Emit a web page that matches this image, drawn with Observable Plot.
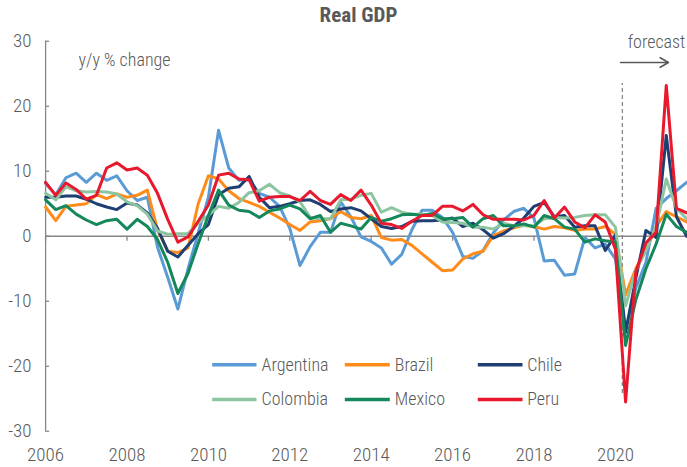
<!DOCTYPE html>
<html><head><meta charset="utf-8">
<script src="https://cdn.jsdelivr.net/npm/d3@7"></script>
<script src="https://cdn.jsdelivr.net/npm/@observablehq/plot@0.6"></script>
<style>
html,body{margin:0;padding:0;background:#fff;overflow:hidden}
#chart svg{display:block}
</style></head><body><div id="chart"></div>
<script>
// ---- data ----
const quarters = [];
for (let y = 2006; y <= 2021; y++) for (let q = 1; q <= 4; q++) quarters.push(`${y}Q${q}`);

const countries = ["Argentina", "Brazil", "Chile", "Colombia", "Mexico", "Peru"];
const colors = ["#5b9bd5", "#ff8c1a", "#1f3f73", "#8ec5a1", "#14885a", "#e8192c"];

const argentina = [8.1, 6.4, 9.0, 9.7, 8.3, 9.7, 8.6, 9.3,
  7.0, 5.5, 6.0, -1.7, -6.3, -11.2, -5.0, 0.5,
  6.0, 16.3, 10.5, 8.6, 8.7, 6.6, 6.0, 4.6,
  1.2, -4.5, -1.6, 0.6, 0.6, 5.3, 3.0, -0.1,
  -0.8, -1.8, -4.3, -2.8, 1.0, 4.0, 4.0, 2.9,
  0.6, -3.1, -3.4, -2.2, 0.5, 2.5, 3.8, 4.3,
  2.8, -3.8, -3.7, -6.0, -5.8, -0.2, -1.8, -1.2,
  -3.5, -14.5, -8.0, -4.0, 4.3, 5.8, 7.0, 8.3];
const brazil = [4.5, 2.4, 4.6, 4.8, 5.0, 6.4, 5.8, 6.5,
  6.0, 6.3, 7.1, 1.0, -2.3, -2.5, -1.8, 5.0,
  9.3, 8.8, 7.0, 5.8, 5.2, 4.6, 3.7, 2.8,
  1.8, 0.9, 2.2, 2.4, 2.7, 3.8, 2.9, 2.7,
  3.2, -0.2, -0.6, -0.5, -1.4, -2.7, -4.0, -5.3,
  -5.2, -3.5, -2.7, -2.3, 0.1, 0.8, 1.3, 1.7,
  1.5, 1.1, 1.5, 1.3, 0.9, 1.1, 1.1, 1.5,
  0.3, -9.0, -5.0, -2.0, 1.5, 3.8, 3.0, 2.2];
const chile = [6.0, 6.0, 6.2, 6.2, 5.7, 5.0, 4.5, 4.1,
  5.1, 4.8, 3.6, 1.2, -2.3, -3.2, -1.4, 0.4,
  1.8, 6.4, 7.4, 7.6, 9.2, 6.0, 4.4, 4.6,
  5.0, 5.5, 5.6, 4.9, 3.8, 4.2, 4.4, 3.9,
  2.7, 1.5, 1.2, 1.5, 2.3, 2.4, 2.4, 2.5,
  2.8, 1.5, 2.0, 1.0, -0.3, 0.4, 1.5, 2.8,
  4.6, 5.2, 3.0, 3.2, 1.4, 1.6, 1.6, -2.2,
  0.2, -14.8, -6.5, 0.9, -0.2, 15.5, 3.0, 0.0];
const colombia = [6.6, 5.6, 7.6, 7.0, 6.8, 6.9, 6.8, 6.5,
  5.3, 4.7, 3.4, 0.8, 0.3, 0.4, 0.4, 2.0,
  3.2, 4.6, 4.3, 5.2, 6.7, 7.0, 8.0, 6.7,
  6.2, 5.3, 2.9, 2.7, 2.7, 5.6, 5.7, 6.3,
  6.6, 3.7, 4.4, 3.7, 3.4, 3.4, 3.2, 2.2,
  2.1, 2.0, 1.4, 1.4, 1.1, 2.0, 1.6, 1.6,
  1.6, 2.7, 2.9, 2.8, 2.9, 3.2, 3.3, 3.3,
  1.4, -10.7, -5.3, -2.2, 1.4, 8.8, 4.3, 2.7];
const mexico = [5.6, 4.1, 4.7, 3.4, 2.5, 1.8, 2.4, 2.6,
  1.1, 2.6, 1.5, -0.5, -4.0, -8.8, -5.7, -1.1,
  3.2, 7.1, 4.8, 4.0, 3.8, 2.9, 3.9, 4.2,
  4.8, 4.2, 2.7, 3.2, 0.6, 2.0, 1.6, 1.1,
  2.9, 2.3, 2.7, 3.3, 3.4, 3.2, 3.5, 2.7,
  2.7, 2.9, 1.4, 2.7, 3.2, 1.6, 1.6, 1.9,
  1.4, 3.2, 2.7, 1.4, 1.1, -0.9, -0.4, -0.7,
  -0.9, -16.8, -9.8, -5.0, -1.2, 3.4, 1.5, 0.6];
const peru = [8.3, 6.3, 8.2, 7.2, 5.7, 6.3, 10.5, 11.3,
  10.2, 10.5, 9.4, 6.6, 2.6, -0.9, -0.1, 2.3,
  4.8, 9.4, 9.7, 8.8, 8.7, 5.4, 6.0, 6.1,
  6.1, 5.5, 6.9, 5.5, 4.9, 6.4, 5.5, 7.1,
  4.8, 2.0, 1.8, 1.2, 2.3, 3.2, 3.2, 4.6,
  4.6, 3.9, 4.9, 3.3, 2.6, 2.6, 2.6, 2.5,
  3.2, 5.5, 2.8, 4.5, 2.2, 1.3, 3.3, 2.2,
  -2.0, -25.5, -5.5, -1.0, 0.6, 23.2, 4.3, 3.6];

const yearTicks = [2006, 2008, 2010, 2012, 2014, 2016, 2018, 2020];
const yTicks = [-30, -20, -10, 0, 10, 20, 30];
const forecastStart = 2020.17;
const title = "Real GDP";
const unitLabel = "y/y % change";
const forecastLabel = "forecast";

// ---- build table ----
const seriesValues = [argentina, brazil, chile, colombia, mexico, peru];
const qTime = s => +s.slice(0, 4) + (+s.slice(5) - 1) / 4;
const rows = [];
countries.forEach((c, k) => seriesValues[k].forEach((v, i) => rows.push({country: c, t: qTime(quarters[i]), v})));

// layout helpers (pixel -> data units)
const PX0 = 45.1, PXY = 40.7, PY0 = 235.75, PUNIT = 6.5;
const tx = p => 2006 + (p - PX0) / PXY;
const vy = p => (PY0 - p) / PUNIT;

const legend = countries.map((c, k) => ({
  country: c,
  x1: tx([211.7, 344.3, 477.3][k % 3]),
  x2: tx([256, 389.3, 522][k % 3]),
  tx: tx([261, 394.3, 526.7][k % 3]),
  y: vy(k < 3 ? 364.3 : 399)
}));

const FONT = "'Roboto Condensed','Liberation Sans Narrow','Arial Narrow','Liberation Sans',Arial,sans-serif";
const GRAY = "#595959", AXIS = "#868686";
const FS = 18, FW = 300;

const chart = Plot.plot({
  width: 687, height: 467,
  marginTop: 0, marginRight: 0, marginBottom: 0, marginLeft: 0,
  x: {domain: [2006, 2022], range: [PX0, PX0 + 16 * PXY], axis: null},
  y: {domain: [-30, 30], range: [PY0 + 30 * PUNIT, PY0 - 30 * PUNIT], axis: null},
  color: {domain: countries, range: colors},
  style: {fontFamily: FONT, color: GRAY, background: "white", overflow: "hidden"},
  marks: [
    // y axis
    Plot.ruleX([2006], {y1: -30, y2: 30, stroke: AXIS, strokeWidth: 1.3}),
    Plot.ruleY(yTicks, {x1: 2006, x2: tx(PX0 + 4), stroke: AXIS, strokeWidth: 1.3}),
    Plot.text(yTicks, {x: 2006, y: d => d, text: d => String(d), textAnchor: "end", dx: -14, fontSize: FS + 1, fontWeight: FW, fill: GRAY}),
    // zero line with x ticks
    Plot.ruleY([0], {x1: 2006, x2: 2022, stroke: AXIS, strokeWidth: 1.5}),
    Plot.ruleX(yearTicks, {x: d => d, y1: 0, y2: vy(PY0 + 5), stroke: AXIS, strokeWidth: 1.3}),
    Plot.text(yearTicks, {x: d => d, y: -30, text: d => String(d), dy: 24, fontSize: FS + 1, fontWeight: FW, fill: GRAY}),
    // forecast divider
    Plot.ruleX([forecastStart], {y1: vy(393), y2: vy(83), stroke: "#7f7f7f", strokeWidth: 1.2, strokeDasharray: "4,3"}),
    Plot.arrow([0], {x1: tx(620), x2: tx(668), y1: vy(62), y2: vy(62), stroke: GRAY, strokeWidth: 1.6, headLength: 9, bend: 0}),
    Plot.text([forecastLabel], {x: tx(656), y: vy(42), text: d => d, fontSize: FS, fontWeight: FW, fill: GRAY}),
    Plot.text([unitLabel], {x: tx(78), y: vy(60), text: d => d, textAnchor: "start", fontSize: FS, fontWeight: FW, fill: GRAY}),
    Plot.text([title], {x: tx(358), y: vy(15), text: d => d, fontSize: 21, fontWeight: "bold", fill: GRAY}),
    // series
    Plot.line(rows, {x: "t", y: "v", z: "country", stroke: "country", strokeWidth: 3, strokeLinejoin: "round"}),
    // legend
    Plot.link(legend, {x1: "x1", x2: "x2", y1: "y", y2: "y", stroke: "country", strokeWidth: 3.5}),
    Plot.text(legend, {x: "tx", y: "y", text: "country", textAnchor: "start", fontSize: FS, fontWeight: FW, fill: GRAY})
  ]
});
document.getElementById("chart").appendChild(chart);
</script></body></html>
